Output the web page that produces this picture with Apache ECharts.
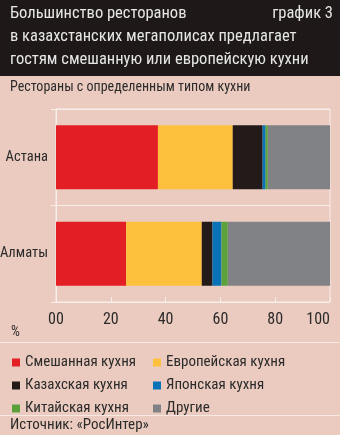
<!DOCTYPE html>
<html><head><meta charset="utf-8">
<script src="https://cdn.jsdelivr.net/npm/echarts@6/dist/echarts.min.js"></script>
<style>html,body{margin:0;padding:0;background:#EBCBBF}#c{width:340px;height:435px}</style>
</head><body><div id="c"></div>
<script>
const categories = ['Астана', 'Алматы'];
const seriesNames = ['Смешанная кухня', 'Европейская кухня', 'Казахская кухня', 'Японская кухня', 'Китайская кухня', 'Другие'];
const mixed    = [37.2, 25.6];
const european = [27.3, 27.6];
const kazakh   = [10.9, 3.9];
const japanese = [1.1, 3.3];
const chinese  = [0.8, 2.3];
const other    = [22.7, 37.3];
const xTickLabels = ['00', '20', '40', '60', '80', '100'];
const colors = ['#E31E24', '#FDC03C', '#231A19', '#0A73B8', '#5BA23C', '#818285'];
const values = [mixed, european, kazakh, japanese, chinese, other];

const FONT = '"Liberation Sans Narrow", "Roboto Condensed", "DejaVu Sans Condensed", "Arial Narrow", sans-serif';
const chart = echarts.init(document.getElementById('c'), null, {renderer: 'canvas'});
chart.setOption({
  backgroundColor: '#EBCBBF',
  animation: false,
  textStyle: {fontFamily: FONT},
  graphic: [
    {type: 'rect', left: 0, top: 0, shape: {width: 340, height: 76}, style: {fill: '#1E1918'}},
    {type: 'text', left: 10, top: 5, style: {text: 'Большинство ресторанов', fill: '#E6E6E6', font: '16.5px ' + FONT}},
    {type: 'text', right: 7, top: 5, style: {text: 'график 3', fill: '#E6E6E6', font: '16.5px ' + FONT}},
    {type: 'text', left: 10, top: 28, style: {text: 'в казахстанских мегаполисах предлагает', fill: '#E6E6E6', font: '16.5px ' + FONT}},
    {type: 'text', left: 10, top: 51, style: {text: 'гостям смешанную или европейскую кухни', fill: '#E6E6E6', font: '16.5px ' + FONT}},
    {type: 'text', left: 10, top: 80, style: {text: 'Рестораны с определенным типом кухни', fill: '#2B2B2B', font: '14px ' + FONT}},
    {type: 'text', left: 11, top: 325, style: {text: '%', fill: '#2B2B2B', font: '14px ' + FONT}},
    {type: 'line', shape: {x1: 0, y1: 342.5, x2: 340, y2: 342.5}, style: {stroke: '#F7E8E2', lineWidth: 1}},
    {type: 'line', shape: {x1: 0, y1: 415.5, x2: 340, y2: 415.5}, style: {stroke: '#F7E8E2', lineWidth: 1}},
    {type: 'text', left: 10, top: 418, style: {text: 'Источник: «РосИнтер»', fill: '#2B2B2B', font: '15px ' + FONT}}
  ],
  legend: [
    {left: 7, top: 349, orient: 'vertical', itemGap: 6, itemWidth: 8, itemHeight: 8, icon: 'rect',
     data: [seriesNames[0], seriesNames[2], seriesNames[4]], textStyle: {fontSize: 15, lineHeight: 17, color: '#2B2B2B', fontFamily: FONT}},
    {left: 148, top: 349, orient: 'vertical', itemGap: 6, itemWidth: 8, itemHeight: 8, icon: 'rect',
     data: [seriesNames[1], seriesNames[3], seriesNames[5]], textStyle: {fontSize: 15, lineHeight: 17, color: '#2B2B2B', fontFamily: FONT}}
  ],
  grid: {left: 56, right: 10, top: 109, bottom: 133, outerBoundsMode: 'none', show: true, borderColor: '#F7EEEA', borderWidth: 1, backgroundColor: 'transparent'},
  xAxis: {
    type: 'value', min: 0, max: 100, interval: 20,
    axisLine: {show: false},
    axisTick: {show: true, inside: true, length: 5, lineStyle: {color: '#F7EEEA'}},
    splitLine: {show: false},
    axisLabel: {fontSize: 16, color: '#2B2B2B', margin: 10, fontFamily: FONT, alignMaxLabel: 'right',
      formatter: (v) => xTickLabels[Math.round(v / 20)]}
  },
  yAxis: {
    type: 'category', data: categories, inverse: true,
    axisLine: {show: true, lineStyle: {color: '#F7EEEA'}},
    axisTick: {show: true, length: 5, lineStyle: {color: '#F7EEEA'}},
    splitLine: {show: true, lineStyle: {color: '#F7EEEA'}},
    axisLabel: {fontSize: 14.5, color: '#2B2B2B', margin: 8, fontFamily: FONT}
  },
  series: seriesNames.map((n, i) => ({
    name: n, type: 'bar', stack: 'all', data: values[i], barWidth: 64,
    itemStyle: {color: colors[i]}
  }))
});
</script></body></html>
